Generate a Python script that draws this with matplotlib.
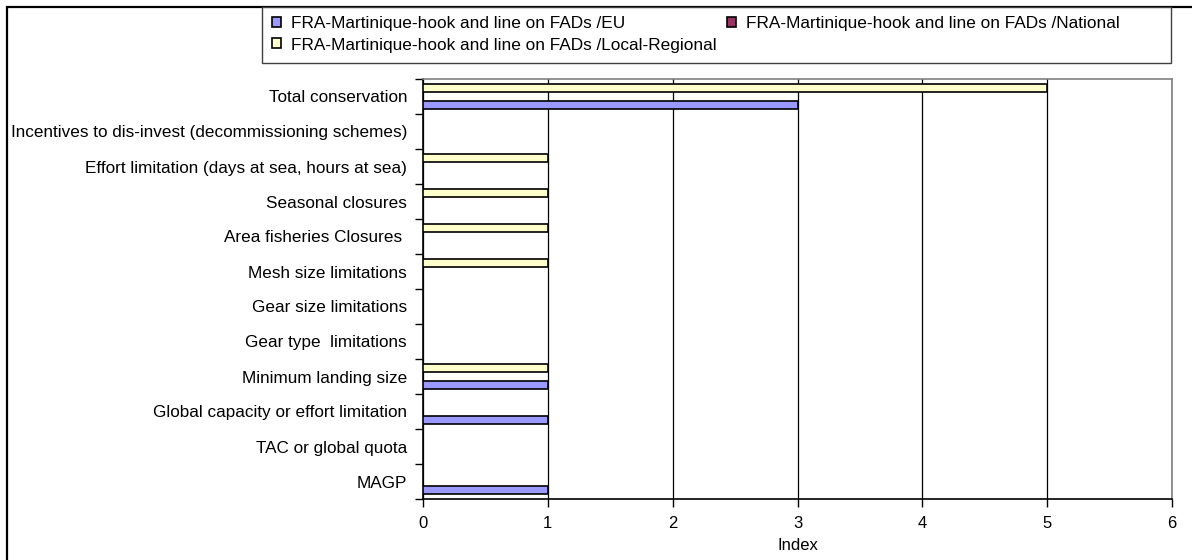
import matplotlib
matplotlib.use("Agg")
import matplotlib.pyplot as plt
from matplotlib.patches import Rectangle
import numpy as np

plt.rcParams['font.family'] = ['Liberation Sans', 'DejaVu Sans']

categories = [
    "MAGP",
    "TAC or global quota",
    "Global capacity or effort limitation",
    "Minimum landing size",
    "Gear type  limitations",
    "Gear size limitations",
    "Mesh size limitations",
    "Area fisheries Closures ",
    "Seasonal closures",
    "Effort limitation (days at sea, hours at sea)",
    "Incentives to dis-invest (decommissioning schemes)",
    "Total conservation",
]
series_names = [
    "FRA-Martinique-hook and line on FADs /EU",
    "FRA-Martinique-hook and line on FADs /National",
    "FRA-Martinique-hook and line on FADs /Local-Regional",
]
eu_values = [1, 0, 1, 1, 0, 0, 0, 0, 0, 0, 0, 3]
national_values = [0, 0, 0, 0, 0, 0, 0, 0, 0, 0, 0, 0]
local_values = [0, 0, 0, 1, 0, 0, 1, 1, 1, 1, 0, 5]
x_ticks = [0, 1, 2, 3, 4, 5, 6]
colors = ["#9999FF", "#993366", "#FFFFCC"]

W, H = 1192, 560
fig = plt.figure(figsize=(W / 100, H / 100), dpi=100)
ax = fig.add_axes([423 / W, 1 - 499 / H, (1172 - 423) / W, (499 - 79) / H])

y = np.arange(len(categories))
bh = 0.243
handles = []
for i, (vals, col) in enumerate(zip([eu_values, national_values, local_values], colors)):
    off = (i - 1) * bh
    b = ax.barh(y + off, vals, height=bh, color=col, edgecolor="black",
                linewidth=1.2, label=series_names[i], zorder=3)
    handles.append(b)

ax.set_xlim(0, 6)
ax.set_ylim(-0.5, len(categories) - 0.5)
ax.set_xticks(x_ticks)
ax.set_xticklabels([str(t) for t in x_ticks], fontsize=12)
ax.set_yticks(y)
ax.set_yticklabels(categories, fontsize=12.3)
ax.tick_params(axis="y", length=0, pad=11.5)
ax.set_yticks(np.arange(-0.5, len(categories), 1.0), minor=True)
ax.tick_params(axis="y", which="minor", length=6, width=1, direction="out", color="black")
ax.tick_params(axis="x", length=6, width=1, direction="out", pad=6)
ax.xaxis.grid(True, color="black", linewidth=0.9, zorder=0)
ax.set_axisbelow(True)
ax.set_xlabel("Index", fontsize=12, labelpad=5)

for s in ["left", "bottom"]:
    ax.spines[s].set_color("black")
    ax.spines[s].set_linewidth(1.2)
for s in ["top", "right"]:
    ax.spines[s].set_color("#808080")
    ax.spines[s].set_linewidth(1.2)

# outer chart border
fig.patches.append(Rectangle((7 / W, -0.02), 1.05, 1 - 7 / H + 0.02,
                             transform=fig.transFigure, fill=False,
                             edgecolor="black", linewidth=1.6, zorder=0))

# legend frame
fig.patches.append(Rectangle((262 / W, 1 - 63 / H), (1171 - 262) / W, (63 - 7) / H,
                             transform=fig.transFigure, facecolor="white",
                             edgecolor="#404040", linewidth=1.0, zorder=1))

leg = fig.legend([handles[0], handles[2], handles[1]],
                 [series_names[0], series_names[2], series_names[1]],
                 ncol=2, loc="center left",
                 bbox_to_anchor=(262 / W, 1 - 34.5 / H),
                 frameon=False, fontsize=12.4,
                 handlelength=0.5, handleheight=0.5, handletextpad=0.6,
                 columnspacing=0.6, borderaxespad=0, borderpad=0.0,
                 labelspacing=0.35)
leg.set_zorder(2)
# shift legend a bit right to match inner padding
from matplotlib.transforms import ScaledTranslation
leg.set_bbox_to_anchor((272 / W - 0.0, 1 - 34.5 / H), transform=fig.transFigure)

fig.savefig("out.png", dpi=100)
